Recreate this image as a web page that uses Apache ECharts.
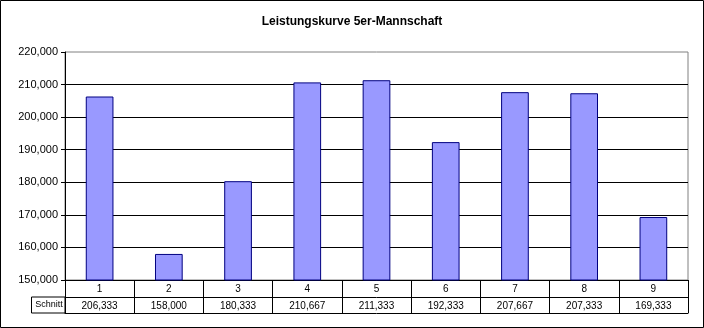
<!DOCTYPE html>
<html>
<head>
<meta charset="utf-8">
<script src="https://cdn.jsdelivr.net/npm/echarts@6/dist/echarts.min.js"></script>
<style>
  html, body { margin: 0; padding: 0; background: #fff; }
  #chart { width: 704px; height: 328px; }
</style>
</head>
<body>
<div id="chart"></div>
<script>
// Spieltage und Mannschaftsschnitt (5er-Mannschaft)
const categories = ['1', '2', '3', '4', '5', '6', '7', '8', '9'];
const schnitt = [206.333, 158.000, 180.333, 210.667, 211.333, 192.333, 207.667, 207.333, 169.333];
const rowLabel = 'Schnitt';
const titleText = 'Leistungskurve 5er-Mannschaft';

const FONT = 'Arial, "Liberation Sans", sans-serif';
const fmt = v => v.toFixed(3).replace('.', ',');

const chart = echarts.init(document.getElementById('chart'), null, { renderer: 'canvas' });

const tableAxisBase = {
  type: 'category',
  data: categories,
  position: 'bottom',
  gridIndex: 0,
  boundaryGap: true,
  axisLine: { show: true, lineStyle: { color: '#000', width: 1 } },
  splitLine: { show: false }
};

chart.setOption({
  animation: false,
  backgroundColor: '#fff',
  title: {
    text: titleText,
    left: 'center',
    top: 11,
    textStyle: { fontFamily: FONT, fontSize: 12, fontWeight: 'bold', color: '#000' }
  },
  grid: {
    left: 65, right: 16, top: 52, bottom: 48,
    show: true, borderColor: '#808080', borderWidth: 1, backgroundColor: '#fff'
  },
  xAxis: [
    Object.assign({}, tableAxisBase, {
      axisTick: { show: true, interval: 0, length: 33, lineStyle: { color: '#000' } },
      axisLabel: { interval: 0, margin: 4, fontFamily: FONT, fontSize: 10, color: '#000' }
    }),
    Object.assign({}, tableAxisBase, {
      offset: 17,
      axisTick: { show: false },
      axisLabel: {
        interval: 0, margin: 4, fontFamily: FONT, fontSize: 10, color: '#000',
        formatter: (v, i) => fmt(schnitt[i])
      }
    }),
    Object.assign({}, tableAxisBase, {
      offset: 33,
      axisTick: { show: false },
      axisLabel: { show: false }
    })
  ],
  yAxis: {
    type: 'value',
    min: 150, max: 220, interval: 10,
    axisLine: { show: true, lineStyle: { color: '#000', width: 1 } },
    axisTick: { show: true, length: 4, lineStyle: { color: '#000' } },
    axisLabel: { margin: 7, fontFamily: FONT, fontSize: 11, color: '#000', formatter: v => fmt(v) },
    splitLine: { show: true, showMaxLine: false, lineStyle: { color: '#000', width: 1 } }
  },
  series: [{
    type: 'bar',
    name: rowLabel,
    data: schnitt,
    xAxisIndex: 0,
    barWidth: '40%',
    itemStyle: { color: '#9999FF', borderColor: '#000080', borderWidth: 1 }
  }],
  graphic: [
    {
      type: 'rect',
      shape: { x: 0.5, y: 0.5, width: 703, height: 327 },
      style: { fill: 'none', stroke: '#000', lineWidth: 1 },
      z: 100
    },
    {
      type: 'rect',
      shape: { x: 31.5, y: 297, width: 33.5, height: 16 },
      style: { fill: '#fff', stroke: '#000', lineWidth: 1 },
      z: 50
    },
    {
      type: 'text',
      x: 49, y: 305,
      style: {
        text: rowLabel, fontFamily: FONT, fontSize: 9, fill: '#000',
        textAlign: 'center', textVerticalAlign: 'middle'
      },
      z: 51
    }
  ]
});
</script>
</body>
</html>
